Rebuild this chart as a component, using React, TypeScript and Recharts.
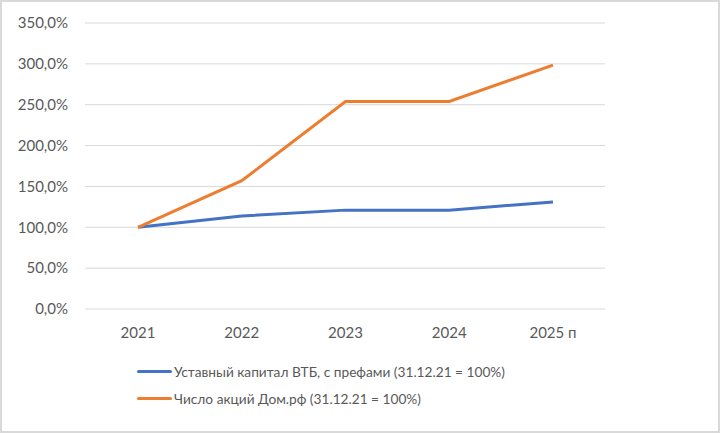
import React from 'react';
import { LineChart, Line, XAxis, YAxis, CartesianGrid } from 'recharts';

const categories = ['2021', '2022', '2023', '2024', '2025 п'];
const vtbCapital = [100, 113.8, 121, 121, 131];
const domRfShares = [100, 157, 254, 254, 298.5];
const yTicks = [0, 50, 100, 150, 200, 250, 300, 350];
const seriesNames = [
  'Уставный капитал ВТБ, с префами (31.12.21 = 100%)',
  'Число акций Дом.рф (31.12.21 = 100%)',
];
const seriesColors = ['#4472C4', '#ED7D31'];

const data = categories.map((c, i) => ({ cat: c, vtb: vtbCapital[i], dom: domRfShares[i] }));

const FONT = 'Lato, "Liberation Sans", sans-serif';
const TEXT = '#595959';

const fmt = (v: number) => v.toFixed(1).replace('.', ',') + '%';

export default function App() {
  return (
    <div style={{ position: 'absolute', left: 0, top: 0, width: 720, height: 433, background: '#fff' }}>
      <div style={{ position: 'absolute', left: 0, top: 0, width: 716, height: 429, border: '2px solid #d9d9d9' }} />
      <LineChart width={720} height={433} data={data} margin={{ top: 23, right: 115, left: 0, bottom: 94 }}>
        <CartesianGrid vertical={false} stroke="#d9d9d9" strokeWidth={1} />
        <XAxis
          dataKey="cat"
          axisLine={false}
          tickLine={false}
          tickMargin={12}
          padding={{ left: 53, right: 52 }}
          height={30}
          tick={{ fontFamily: FONT, fontSize: 15, fill: TEXT }}
          interval={0}
        />
        <YAxis
          width={85}
          domain={[0, 350]}
          ticks={yTicks}
          axisLine={false}
          tickLine={false}
          tickMargin={11}
          tickFormatter={fmt}
          tick={{ fontFamily: FONT, fontSize: 15, fill: TEXT }}
        />
        <Line type="linear" dataKey="vtb" stroke={seriesColors[0]} strokeWidth={3} dot={false} isAnimationActive={false} />
        <Line type="linear" dataKey="dom" stroke={seriesColors[1]} strokeWidth={3} dot={false} isAnimationActive={false} />
      </LineChart>
      <div style={{ position: 'absolute', left: 137, top: 358, fontFamily: FONT, fontSize: 13.7, color: TEXT }}>
        {seriesNames.map((n, i) => (
          <div key={n} style={{ display: 'flex', alignItems: 'center', height: 27 }}>
            <div style={{ width: 35, height: 3, background: seriesColors[i], borderRadius: 2, marginRight: 2 }} />
            <span>{n}</span>
          </div>
        ))}
      </div>
    </div>
  );
}
